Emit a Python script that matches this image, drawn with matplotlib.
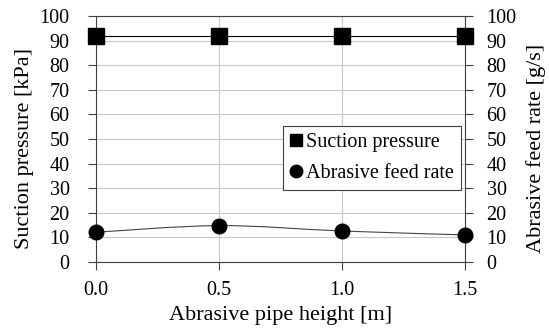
import numpy as np
import matplotlib.pyplot as plt
from matplotlib.path import Path
from matplotlib.patches import PathPatch

plt.rcParams['font.family'] = ['Liberation Serif', 'DejaVu Serif']
plt.rcParams['font.size'] = 14.5

# data
height = [0.0, 0.5, 1.0, 1.5]
suction = [92, 92, 92, 92]
feed_rate = [12.1, 14.8, 12.6, 11.0]


def smooth_path(x, y, t=1 / 6):
    # Catmull-Rom style cubic Bezier through points (like spreadsheet smoothing)
    pts = np.column_stack([x, y]).astype(float)
    verts = [pts[0]]
    codes = [Path.MOVETO]
    n = len(pts)
    for i in range(n - 1):
        p0 = pts[max(i - 1, 0)]
        p1 = pts[i]
        p2 = pts[i + 1]
        p3 = pts[min(i + 2, n - 1)]
        c1 = p1 + (p2 - p0) * t
        c2 = p2 - (p3 - p1) * t
        verts += [c1, c2, p2]
        codes += [Path.CURVE4] * 3
    return Path(verts, codes)


fig = plt.figure(figsize=(5.49, 3.32), dpi=100)
ax = fig.add_axes([96 / 549, 1 - 262 / 332, (465 - 96) / 549, (262 - 16) / 332])

ax.plot(height, suction, color='black', lw=0.8, marker='s', ms=11,
        clip_on=False, zorder=4)
ax.add_patch(PathPatch(smooth_path(height, feed_rate), fill=False,
                       edgecolor='#444444', lw=0.8, zorder=2))
ax.plot(height, feed_rate, ls='none', color='black', marker='o', ms=10.5,
        clip_on=False, zorder=4)

ax.set_xlim(0, 1.5)
ax.set_ylim(0, 100)
ax.set_xticks([0.0, 0.5, 1.0, 1.5])
ax.set_xticklabels(['0.0', '0.5', '1.0', '1.5'])
ax.set_yticks(range(0, 101, 10))
ax.grid(True, color='#c8c8c8', lw=0.8)
ax.set_axisbelow(True)
for s in ax.spines.values():
    s.set_color('#404040')
    s.set_linewidth(0.8)
ax.tick_params(direction='out', length=6, color='#404040', width=0.8)
ax.tick_params(axis='y', pad=13)
ax.tick_params(axis='x', pad=8)
ax.set_xlabel('Abrasive pipe height [m]', fontsize=16)
ax.xaxis.set_label_coords(0.5, -0.18)
ax.set_ylabel('Suction pressure [kPa]', fontsize=16)
ax.yaxis.set_label_coords(-0.168, 0.46)

ax2 = ax.twinx()
ax2.set_ylim(0, 100)
ax2.set_yticks(range(0, 101, 10))
ax2.tick_params(direction='out', length=6, color='#404040', width=0.8, pad=9.5)
ax2.set_ylabel('Abrasive feed rate [g/s]', fontsize=16)
ax2.yaxis.set_label_coords(1.165, 0.46)
for s in ax2.spines.values():
    s.set_visible(False)
ax.set_zorder(ax2.get_zorder() + 1)
ax.patch.set_visible(False)

h1 = plt.Line2D([], [], ls='none', marker='s', color='black', ms=9)
h2 = plt.Line2D([], [], ls='none', marker='o', color='black', ms=9)
leg = ax.legend([h1, h2], ['Suction pressure', 'Abrasive feed rate'],
                loc='upper left', bbox_to_anchor=(187 / 369, 1 - 110 / 246),
                fancybox=False, edgecolor='#404040', framealpha=1,
                handlelength=0.6, handletextpad=0.2, borderpad=0.35,
                labelspacing=0.6, borderaxespad=0)
leg.get_frame().set_linewidth(0.8)

fig.savefig('out.png', dpi=100)
